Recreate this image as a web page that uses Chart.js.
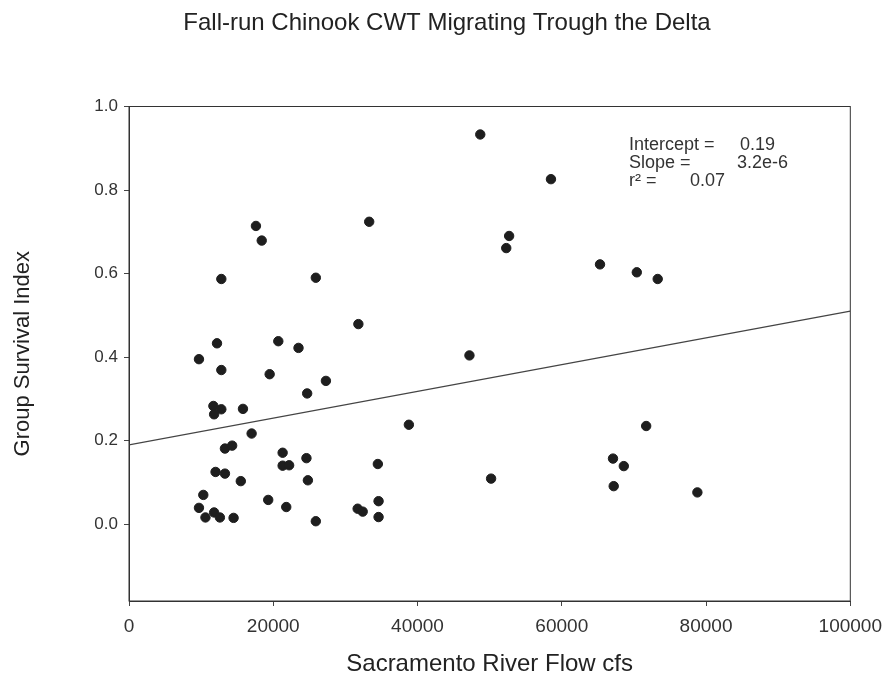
<!DOCTYPE html>
<html>
<head>
<meta charset="utf-8">
<script src="https://cdn.jsdelivr.net/npm/chart.js@4"></script>
<style>
  html, body { margin: 0; padding: 0; background: #fff; }
  #wrap { width: 891px; height: 682px; position: relative; }
</style>
</head>
<body>
<div id="wrap"><canvas id="chart"></canvas></div>
<script>
// Data
const flowCfs = [
    48700, 58500, 33300, 52700, 52300, 65300, 70400, 73300, 31800, 47200,
    38800, 71700, 34500, 50200, 67100, 68600, 67200, 78800, 34600, 31700,
    32400, 34600,
    17600, 18400, 12800, 25900, 12200, 9700, 12800, 20700, 23500, 19500,
    27300, 24700, 11700, 12800, 11800, 15800, 17000, 13300, 14300, 21300,
    21300, 22200, 24600, 12000, 13300, 15500, 24800, 10300, 19300, 21800,
    9700, 10600, 11800, 12600, 14500, 25900
];
const survivalIndex = [
    0.933, 0.826, 0.724, 0.690, 0.661, 0.622, 0.603, 0.587, 0.479, 0.404,
    0.238, 0.235, 0.144, 0.109, 0.157, 0.139, 0.091, 0.076, 0.055, 0.037,
    0.030, 0.017,
    0.714, 0.679, 0.587, 0.590, 0.433, 0.395, 0.369, 0.438, 0.422, 0.359,
    0.343, 0.313, 0.283, 0.275, 0.263, 0.276, 0.217, 0.181, 0.188, 0.171,
    0.140, 0.141, 0.158, 0.125, 0.121, 0.103, 0.105, 0.070, 0.058, 0.041,
    0.039, 0.016, 0.028, 0.016, 0.015, 0.007
];
const intercept = 0.19;
const slope = 3.2e-6;
const rSquared = 0.07;
const xTicks = [0, 20000, 40000, 60000, 80000, 100000];
const yTicks = [0, 0.2, 0.4, 0.6, 0.8, 1.0];

const FONT = "'Liberation Sans', Arial, sans-serif";

const points = flowCfs.map((x, i) => ({ x: x, y: survivalIndex[i] }));
const fitLine = [
    { x: xTicks[0], y: intercept + slope * xTicks[0] },
    { x: xTicks[xTicks.length - 1], y: intercept + slope * xTicks[xTicks.length - 1] }
];

// Frame, title and regression stats
const decorations = {
    id: 'decorations',
    afterDraw(chart) {
        const ctx = chart.ctx;
        const a = chart.chartArea;
        ctx.save();
        ctx.strokeStyle = '#333';
        ctx.lineWidth = 1;
        ctx.strokeRect(a.left, a.top, a.right - a.left, a.bottom - a.top);

        ctx.fillStyle = '#222';
        ctx.textBaseline = 'middle';
        ctx.textAlign = 'center';
        ctx.font = '24px ' + FONT;
        ctx.fillText('Fall-run Chinook CWT Migrating Trough the Delta', 447, 23);

        ctx.textAlign = 'left';
        ctx.font = '18px ' + FONT;
        ctx.fillStyle = '#333';
        ctx.fillText('Intercept =', 629, 145);
        ctx.fillText(intercept.toFixed(2), 740, 145);
        ctx.fillText('Slope =', 629, 163);
        ctx.fillText('3.2e-6', 737, 163);
        ctx.fillText('r\u00B2 =', 629, 181);
        ctx.fillText(rSquared.toFixed(2), 690, 181);
        ctx.restore();
    }
};

new Chart(document.getElementById('chart'), {
    type: 'scatter',
    data: {
        datasets: [
            {
                label: 'Groups',
                data: points,
                backgroundColor: '#1e1e1e',
                borderColor: '#1e1e1e',
                pointRadius: 4.7,
                pointHoverRadius: 4.7
            },
            {
                label: 'Fit',
                data: fitLine,
                showLine: true,
                borderColor: '#444',
                borderWidth: 1.2,
                pointRadius: 0
            }
        ]
    },
    options: {
        responsive: true,
        maintainAspectRatio: false,
        animation: false,
        layout: { padding: { left: 0, right: 34, top: 106.5, bottom: 0 } },
        plugins: {
            legend: { display: false },
            tooltip: { enabled: false }
        },
        scales: {
            x: {
                type: 'linear',
                min: 0,
                max: 100000,
                afterFit: s => { s.height = 81; },
                afterBuildTicks: s => { s.ticks = xTicks.map(v => ({ value: v })); },
                grid: { drawOnChartArea: false, drawTicks: true, tickLength: 5, color: '#444' },
                border: { color: '#333', width: 1 },
                ticks: {
                    callback: v => String(v),
                    font: { family: FONT, size: 19 },
                    color: '#333',
                    padding: 9,
                    maxRotation: 0
                },
                title: {
                    display: true,
                    text: 'Sacramento River Flow cfs',
                    font: { family: FONT, size: 24 },
                    color: '#222',
                    padding: { top: 0, bottom: 3 }
                }
            },
            y: {
                type: 'linear',
                min: -0.184,
                max: 1.0,
                afterFit: s => { s.width = 129; },
                afterBuildTicks: s => { s.ticks = yTicks.map(v => ({ value: v })); },
                grid: { drawOnChartArea: false, drawTicks: true, tickLength: 5, color: '#444' },
                border: { color: '#333', width: 1 },
                ticks: {
                    callback: v => Number(v).toFixed(1),
                    font: { family: FONT, size: 17 },
                    color: '#333',
                    padding: 6
                },
                title: {
                    display: true,
                    text: 'Group Survival Index',
                    font: { family: FONT, size: 22 },
                    color: '#222',
                    padding: { top: 10, bottom: 0 }
                }
            }
        }
    },
    plugins: [decorations]
});
</script>
</body>
</html>
